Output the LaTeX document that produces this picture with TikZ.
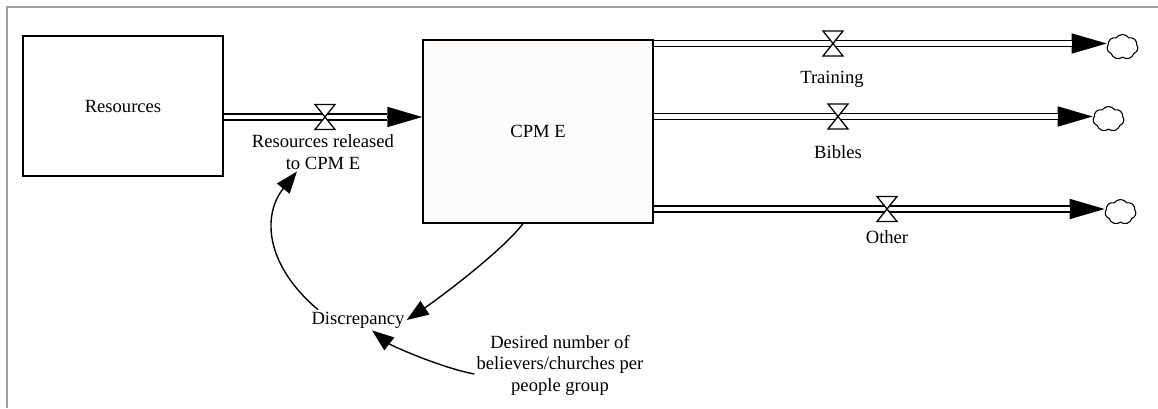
\documentclass[tikz,border=0pt]{standalone}
\usepackage{fontspec}
\setmainfont{Liberation Serif}
\usetikzlibrary{arrows.meta,shapes.symbols}
\definecolor{stockfill}{RGB}{253,252,250}
\begin{document}
\begin{tikzpicture}[x=1pt,y=-1pt,
  every node/.style={font=\fontsize{18.6}{21.5}\selectfont, inner sep=2pt},
  stock/.style={draw, line width=1.4pt, rectangle},
  lbl/.style={align=center},
  pipe/.style={draw, line width=1.6pt, double=white, double distance=4.4pt, shorten >=35pt},
  pipehead/.style={draw, line width=1.6pt, -{Triangle[length=35pt,width=20pt]}},
  link/.style={draw, line width=1.4pt, -{Triangle[length=22pt,width=16pt]}},
  sink/.style={cloud, cloud puffs=7, cloud puff arc=110, aspect=1.2, draw, line width=1.1pt, fill=white,
               minimum width=31pt, minimum height=25pt, inner sep=0pt},
  valve/.pic={\draw[line width=1.3pt, fill=white]
     (-10,-12.5) -- (10,-12.5) -- (-10,12.5) -- (10,12.5) -- cycle;}]

\useasboundingbox (0,0) rectangle (1158,408);
% frame
\draw[gray!75, line width=2pt] (6.5,408) -- (6.5,6.5) -- (1158,6.5);

% stocks
\node[stock, minimum width=200pt, minimum height=140pt] (res) at (123,106) {Resources};
\node[stock, fill=stockfill, minimum width=230pt, minimum height=183pt] (cpm) at (538,131.5) {CPM E};

% sinks
\node[sink] (sinkT) at (1122.5,47) {};
\node[sink] (sinkB) at (1108.5,119) {};
\node[sink] (sinkO) at (1120.5,212) {};

% valve positions
\coordinate (v1) at (325,117);
\coordinate (vT) at (833,43.5);
\coordinate (vB) at (838,116.5);
\coordinate (vO) at (887,209);

% flows
\path[pipehead] (res.east |- v1) -- (cpm.west |- v1);
\path[pipe] (res.east |- v1) -- (cpm.west |- v1);
\path[pipehead] (cpm.east |- vT) -- (sinkT.west |- vT);
\path[pipe] (cpm.east |- vT) -- (sinkT.west |- vT);
\path[pipehead] (cpm.east |- vB) -- (sinkB.west |- vB);
\path[pipe] (cpm.east |- vB) -- (sinkB.west |- vB);
\path[pipehead] (cpm.east |- vO) -- (sinkO.west |- vO);
\path[pipe] (cpm.east |- vO) -- (sinkO.west |- vO);

\pic at (v1) {valve};
\pic at (vT) {valve};
\pic at (vB) {valve};
\pic at (vO) {valve};

% flow labels
\node[lbl] (rel) at (323,152) {Resources released\\to CPM E};
\node (trn) at (832,79) {Training};
\node (bib) at (838,152) {Bibles};
\node (oth) at (887,237) {Other};

% auxiliaries
\node (disc) at (358,320) {Discrepancy};
\node[lbl] (des) at (560,365) {Desired number of\\believers/churches per\\people group};

% information links
\path[link] ([xshift=-15pt]cpm.south) .. controls (502,251) and (439.75,297.8) .. (disc.east);
\path[link] ([xshift=-40pt]disc.north) .. controls (265,265) and (262,215) .. ([xshift=-26pt]rel.south);
\path[link] ([yshift=-9pt]des.west) .. controls (442,368) and (392,346) .. ([xshift=14pt]disc.south);
\end{tikzpicture}
\end{document}
